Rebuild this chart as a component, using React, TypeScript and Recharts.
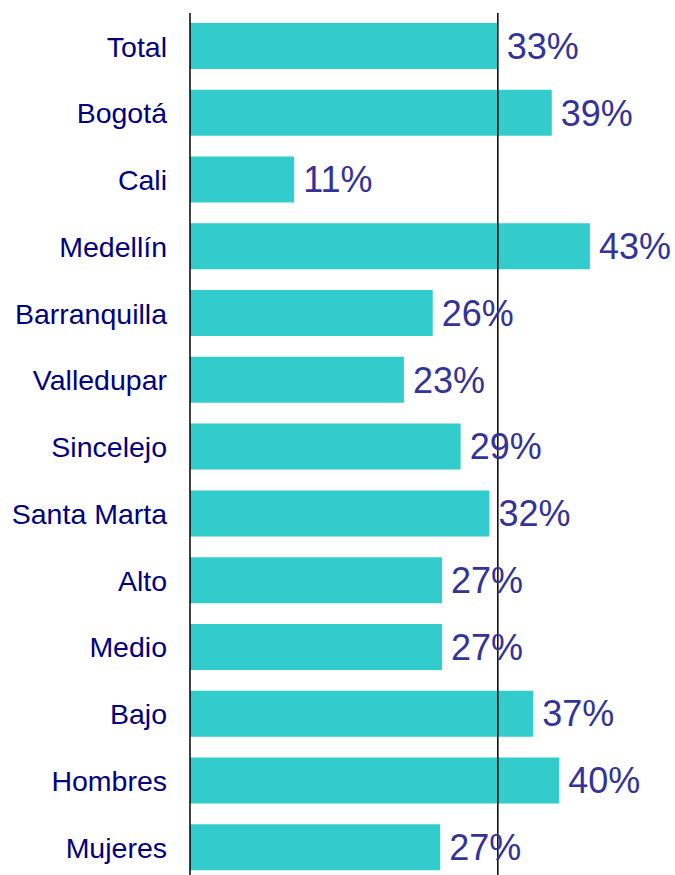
import { Bar, BarChart, LabelList, ReferenceLine, XAxis, YAxis } from "recharts"

const categories = [
  "Total",
  "Bogotá",
  "Cali",
  "Medellín",
  "Barranquilla",
  "Valledupar",
  "Sincelejo",
  "Santa Marta",
  "Alto",
  "Medio",
  "Bajo",
  "Hombres",
  "Mujeres",
]
const values = [33.1, 38.9, 11.2, 43.0, 26.1, 23.0, 29.1, 32.2, 27.1, 27.1, 36.9, 39.7, 26.9]
const totalValue = values[0]

const data = categories.map((name, i) => ({ name, value: values[i] }))

const font = "'Liberation Sans', Arial, sans-serif"

export default function App() {
  return (
    <div style={{ position: "absolute", left: 0, top: 0, width: 675, height: 875, overflow: "hidden", background: "#fff" }}>
      <BarChart
        width={675}
        height={881}
        data={data}
        layout="vertical"
        barSize={46}
        margin={{ top: 13, right: 20, left: 0, bottom: 0 }}
      >
        <XAxis type="number" domain={[0, 50]} hide />
        <YAxis
          type="category"
          dataKey="name"
          width={190}
          axisLine={{ stroke: "#000", strokeWidth: 1.5 }}
          tickLine={false}
          tickSize={0}
          tickMargin={23}
          interval={0}
          tick={{ fill: "#000080", fontSize: 28.5, fontFamily: font }}
        />
        <ReferenceLine x={totalValue} stroke="#000" strokeWidth={1.5} />
        <Bar dataKey="value" fill="#33CCCC" isAnimationActive={false}>
          <LabelList
            dataKey="value"
            position="right"
            offset={9}
            formatter={(v: any) => `${Math.round(Number(v))}%`}
            style={{ fill: "#333399", fontSize: 36, fontFamily: font }}
          />
        </Bar>
      </BarChart>
    </div>
  )
}
